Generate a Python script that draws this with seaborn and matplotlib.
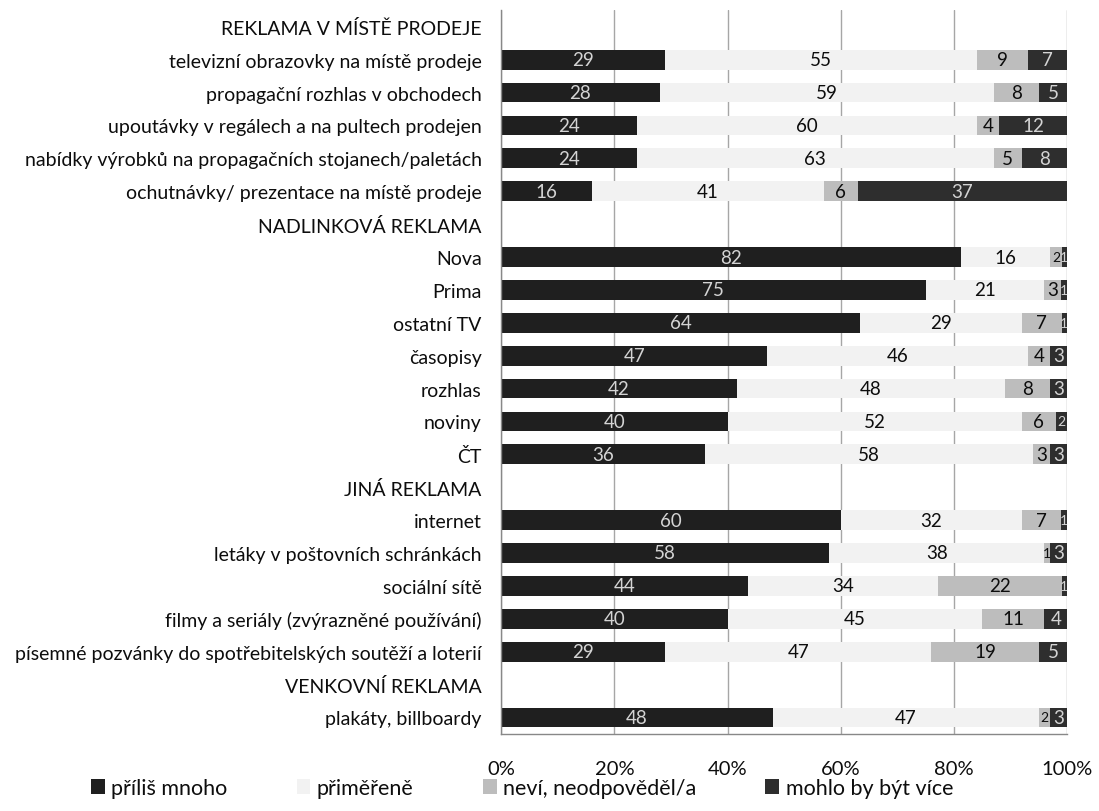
import numpy as np
import pandas as pd
import matplotlib
matplotlib.use("Agg")
import matplotlib.pyplot as plt
import seaborn as sns
from matplotlib.patches import Patch

# Categories (section headers have no data)
categories = [
    "REKLAMA V MÍSTĚ PRODEJE",
    "televizní obrazovky na místě prodeje",
    "propagační rozhlas v obchodech",
    "upoutávky v regálech a na pultech prodejen",
    "nabídky výrobků na propagačních stojanech/paletách",
    "ochutnávky/ prezentace na místě prodeje",
    "NADLINKOVÁ REKLAMA",
    "Nova",
    "Prima",
    "ostatní TV",
    "časopisy",
    "rozhlas",
    "noviny",
    "ČT",
    "JINÁ REKLAMA",
    "internet",
    "letáky v poštovních schránkách",
    "sociální sítě",
    "filmy a seriály (zvýrazněné používání)",
    "písemné pozvánky do spotřebitelských soutěží a loterií",
    "VENKOVNÍ REKLAMA",
    "plakáty, billboardy",
]
headers = {"REKLAMA V MÍSTĚ PRODEJE", "NADLINKOVÁ REKLAMA", "JINÁ REKLAMA", "VENKOVNÍ REKLAMA"}

series_names = ["příliš mnoho", "přiměřeně", "neví, neodpověděl/a", "mohlo by být více"]

prilis_mnoho = [None, 29, 28, 24, 24, 16, None, 82, 75, 64, 47, 42, 40, 36, None, 60, 58, 44, 40, 29, None, 48]
primerene    = [None, 55, 59, 60, 63, 41, None, 16, 21, 29, 46, 48, 52, 58, None, 32, 38, 34, 45, 47, None, 47]
nevi         = [None,  9,  8,  4,  5,  6, None,  2,  3,  7,  4,  8,  6,  3, None,  7,  1, 22, 11, 19, None,  2]
mohlo_vice   = [None,  7,  5, 12,  8, 37, None,  1,  1,  1,  3,  3,  2,  3, None,  1,  3,  1,  4,  5, None,  3]

tick_labels = ["0%", "20%", "40%", "60%", "80%", "100%"]

colors = ["#1f1f1f", "#f2f2f2", "#bdbdbd", "#2e2e2e"]
label_colors = ["#d4d4d4", "#0d0d0d", "#0d0d0d", "#d4d4d4"]

sns.set_theme(style="white")
plt.rcParams["font.family"] = ["Lato", "DejaVu Sans"]
plt.rcParams["text.color"] = "#0d0d0d"

vals = np.array([[np.nan if v is None else v for v in s]
                 for s in (prilis_mnoho, primerene, nevi, mohlo_vice)], dtype=float).T
totals = np.nansum(vals, axis=1)
totals[totals == 0] = 1
shares = vals / totals[:, None] * 100
shares = np.nan_to_num(shares)
cum = np.cumsum(shares, axis=1)

df = pd.DataFrame({"kategorie": categories})
for i, name in enumerate(series_names):
    df[name] = cum[:, i]

fig = plt.figure(figsize=(10.99, 8.12), dpi=100)
ax = fig.add_axes([0.456, 0.095, 0.515, 0.891])

# Stacked bars drawn as overlapping cumulative totals, widest first
for i in range(3, -1, -1):
    sns.barplot(data=df, x=series_names[i], y="kategorie", order=categories,
                color=colors[i], saturation=1, width=0.6, linewidth=0,
                orient="h", ax=ax, zorder=2)

# Value labels centred in each segment; very thin segments get a smaller label
for r, cat in enumerate(categories):
    if cat in headers:
        continue
    left = 0
    for i in range(4):
        w = shares[r, i]
        size = 13.5 if w >= 2.5 else 10
        ax.text(left + w / 2, r, f"{int(vals[r, i])}", ha="center", va="center",
                fontsize=size, color=label_colors[i], zorder=5)
        left += w

ax.set_xlim(0, 100)
ax.set_ylim(len(categories) - 0.5, -0.5)
ax.set_xticks([0, 20, 40, 60, 80, 100])
ax.set_xticklabels(tick_labels, fontsize=14.5, color="#0d0d0d")
ax.set_xlabel("")
ax.set_ylabel("")
ax.set_yticks(range(len(categories)))
ax.set_yticklabels(categories, fontsize=14, color="#0d0d0d")
ax.set_yticks(np.arange(-0.5, len(categories), 1), minor=True)
ax.tick_params(axis="y", which="major", length=0, pad=14)
ax.tick_params(axis="y", which="minor", length=5, color="#888888", direction="out")
ax.tick_params(axis="x", which="major", length=5, color="#888888", direction="out", pad=14)

ax.grid(axis="x", color="#a6a6a6", linewidth=1.0, zorder=0)
ax.set_axisbelow(True)
for side in ["top", "right"]:
    ax.spines[side].set_visible(False)
for side in ["left", "bottom"]:
    ax.spines[side].set_color("#888888")
    ax.spines[side].set_linewidth(1.0)

handles = [Patch(facecolor=c, edgecolor="none") for c in colors]
fig.legend(handles, series_names, loc="lower center", bbox_to_anchor=(0.475, -0.008),
           ncol=4, frameon=False, fontsize=15.5, handlelength=0.65, handleheight=0.65,
           handletextpad=0.3, columnspacing=3.2)

fig.savefig("out.png", dpi=100, facecolor="white")
